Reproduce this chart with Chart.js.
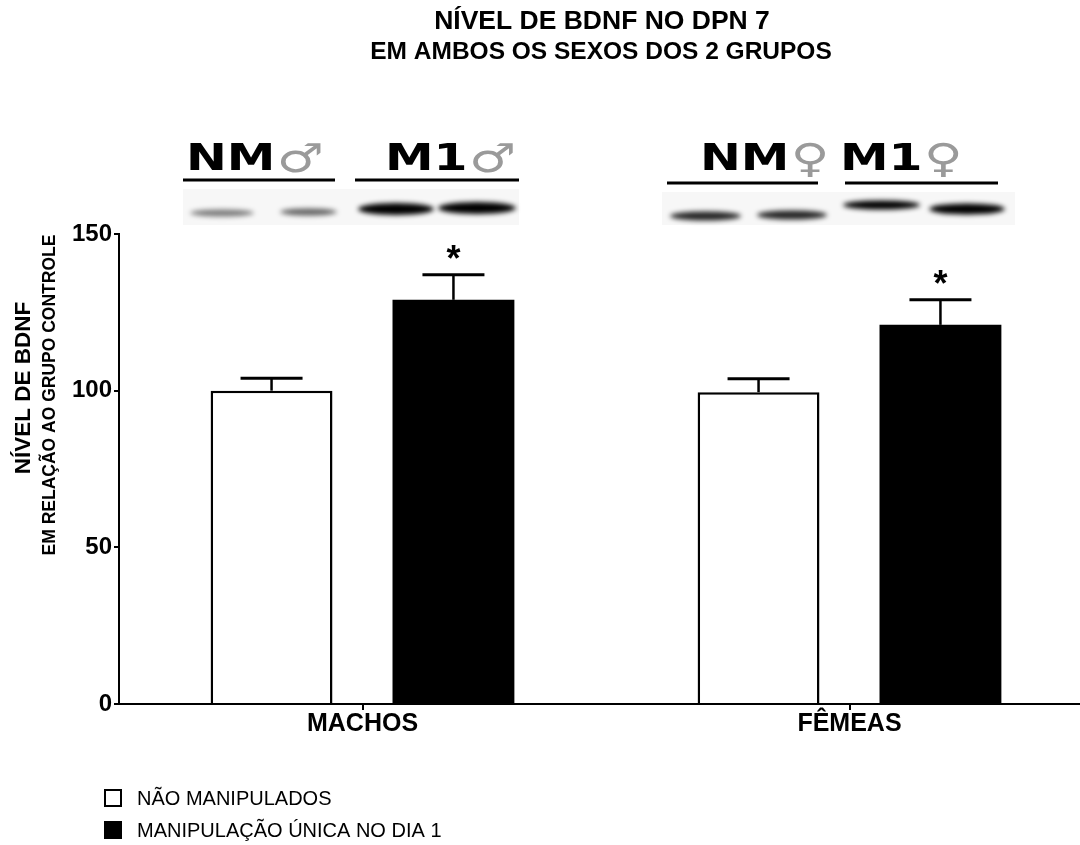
<!DOCTYPE html>
<html>
<head>
<meta charset="utf-8">
<script src="https://cdn.jsdelivr.net/npm/chart.js@4"></script>
<style>
  html, body { margin: 0; padding: 0; background: #fff; overflow: hidden; }
  canvas { display: block; }
</style>
</head>
<body>
<canvas id="bdnfChart" width="1095" height="845"></canvas>
<script>
// Data
const groups = ['MACHOS', 'FÊMEAS'];
const naoManipulados = [100, 99.5];
const naoManipuladosErr = [4, 4.3];
const manipulacaoUnica = [129, 121];
const manipulacaoUnicaErr = [8, 8];
const significant = [false, false, true, true]; // [nm machos, nm femeas, m1 machos, m1 femeas]
const yTicks = [0, 50, 100, 150];
const seriesLabels = ['NÃO MANIPULADOS', 'MANIPULAÇÃO ÚNICA NO DIA 1'];

const FONT = '"Liberation Sans", Arial, sans-serif';

// Blot strip drawing (decorative western blot above the bars)
function band(ctx, x1, x2, cy, h, alpha) {
  ctx.save();
  ctx.filter = 'blur(2.5px)';
  ctx.fillStyle = 'rgba(0,0,0,' + alpha + ')';
  ctx.beginPath();
  ctx.ellipse((x1 + x2) / 2, cy, (x2 - x1) / 2, h / 2, 0, 0, Math.PI * 2);
  ctx.fill();
  ctx.restore();
}

function blotLabel(ctx, txt, sym, x, lineX1, lineX2, lineY) {
  ctx.save();
  ctx.translate(x, 170);
  ctx.scale(1.32, 1);
  ctx.fillStyle = '#000';
  ctx.font = 'bold 37px "DejaVu Sans", sans-serif';
  ctx.textBaseline = 'alphabetic';
  ctx.textAlign = 'left';
  ctx.fillText(txt, 0, 0);
  const w = ctx.measureText(txt).width;
  ctx.font = '40px "DejaVu Sans", sans-serif';
  ctx.fillStyle = '#9a9a9a';
  ctx.fillText(sym, w + 1, 2);
  ctx.restore();
  ctx.save();
  ctx.strokeStyle = '#000';
  ctx.lineWidth = 3;
  ctx.beginPath();
  ctx.moveTo(lineX1, lineY);
  ctx.lineTo(lineX2, lineY);
  ctx.stroke();
  ctx.restore();
}

const decorPlugin = {
  id: 'decor',
  afterDraw(chart) {
    const ctx = chart.ctx;
    ctx.save();

    // Title
    ctx.fillStyle = '#000';
    ctx.textAlign = 'center';
    ctx.textBaseline = 'middle';
    ctx.font = 'bold 26.5px ' + FONT;
    ctx.fillText('NÍVEL DE BDNF NO DPN 7', 602, 22);
    ctx.font = 'bold 24.5px ' + FONT;
    ctx.fillText('EM AMBOS OS SEXOS DOS 2 GRUPOS', 601, 52);

    // Y axis title (two lines)
    ctx.save();
    ctx.translate(24, 388);
    ctx.rotate(-Math.PI / 2);
    ctx.font = 'bold 22.5px ' + FONT;
    ctx.fillText('NÍVEL DE BDNF', 0, 0);
    ctx.restore();
    ctx.save();
    ctx.translate(50, 395);
    ctx.rotate(-Math.PI / 2);
    ctx.font = 'bold 17.5px ' + FONT;
    ctx.fillText('EM RELAÇÃO AO GRUPO CONTROLE', 0, 0);
    ctx.restore();

    // Blots
    ctx.fillStyle = '#f7f7f7';
    ctx.fillRect(183, 189, 336, 36);
    ctx.fillRect(662, 192, 353, 33);
    band(ctx, 190, 254, 213, 7, 0.5);
    band(ctx, 280, 337, 212, 7, 0.6);
    band(ctx, 358, 434, 209, 12, 1);
    band(ctx, 438, 516, 208, 12, 1);
    band(ctx, 670, 741, 216, 9, 0.85);
    band(ctx, 757, 827, 215, 9, 0.85);
    band(ctx, 843, 920, 205, 9, 1);
    band(ctx, 929, 1005, 209, 11, 1);

    blotLabel(ctx, 'NM', '♂', 186, 183, 335, 180);
    blotLabel(ctx, 'M1', '♂', 385, 355, 519, 180);
    blotLabel(ctx, 'NM', '♀', 700, 667, 818, 183);
    blotLabel(ctx, 'M1', '♀', 840, 845, 998, 183);

    // Error bars (upper only) + significance asterisks
    const y = chart.scales.y;
    const errs = [naoManipuladosErr, manipulacaoUnicaErr];
    chart.data.datasets.forEach((ds, di) => {
      chart.getDatasetMeta(di).data.forEach((bar, i) => {
        const top = y.getPixelForValue(ds.data[i]);
        const capY = y.getPixelForValue(ds.data[i] + errs[di][i]);
        ctx.strokeStyle = '#000';
        ctx.lineWidth = 2.5;
        ctx.beginPath();
        ctx.moveTo(bar.x, top);
        ctx.lineTo(bar.x, capY);
        ctx.stroke();
        ctx.lineWidth = 3;
        ctx.beginPath();
        ctx.moveTo(bar.x - 31, capY);
        ctx.lineTo(bar.x + 31, capY);
        ctx.stroke();
        if (significant[di * 2 + i]) {
          ctx.fillStyle = '#000';
          ctx.font = 'bold 36px ' + FONT;
          ctx.textAlign = 'center';
          ctx.textBaseline = 'middle';
          ctx.fillText('*', bar.x, capY - 14);
        }
      });
    });

    // Legend
    ctx.textAlign = 'left';
    ctx.textBaseline = 'middle';
    ctx.font = '20px ' + FONT;
    chart.data.datasets.forEach((ds, di) => {
      const ly = 798 + di * 32;
      ctx.fillStyle = ds.backgroundColor;
      ctx.fillRect(105, ly - 8, 16, 16);
      ctx.strokeStyle = '#000';
      ctx.lineWidth = 2;
      ctx.strokeRect(105, ly - 8, 16, 16);
      ctx.fillStyle = '#000';
      ctx.fillText(ds.label, 137, ly + 1);
    });
    ctx.restore();
  }
};

const ctx = document.getElementById('bdnfChart').getContext('2d');
new Chart(ctx, {
  type: 'bar',
  data: {
    labels: groups,
    datasets: [{
      label: seriesLabels[0],
      data: naoManipulados,
      backgroundColor: '#ffffff',
      borderColor: '#000000',
      borderWidth: 2.5,
      borderSkipped: 'bottom'
    }, {
      label: seriesLabels[1],
      data: manipulacaoUnica,
      backgroundColor: '#000000',
      borderColor: '#000000',
      borderWidth: 0
    }]
  },
  options: {
    responsive: false,
    animation: false,
    categoryPercentage: 0.747,
    barPercentage: 0.67,
    layout: { padding: { top: 234, right: 2, bottom: 101, left: 0 } },
    plugins: {
      legend: { display: false },
      tooltip: { enabled: false }
    },
    scales: {
      x: {
        afterFit: s => { s.height = 40; },
        grid: { drawOnChartArea: false, offset: false, tickLength: 6, color: '#000', lineWidth: 2 },
        border: { color: '#000', width: 2 },
        ticks: { color: '#000', padding: -1, font: { family: FONT, size: 25, weight: 'bold' } }
      },
      y: {
        min: 0,
        max: 150,
        afterFit: s => { s.width = 119; },
        afterBuildTicks: s => { s.ticks = yTicks.map(v => ({ value: v })); },
        grid: { drawOnChartArea: false, tickLength: 5, color: '#000', lineWidth: 2 },
        border: { color: '#000', width: 2 },
        ticks: { color: '#000', padding: 2, font: { family: FONT, size: 24, weight: 'bold' } }
      }
    }
  },
  plugins: [decorPlugin]
});
</script>
</body>
</html>
